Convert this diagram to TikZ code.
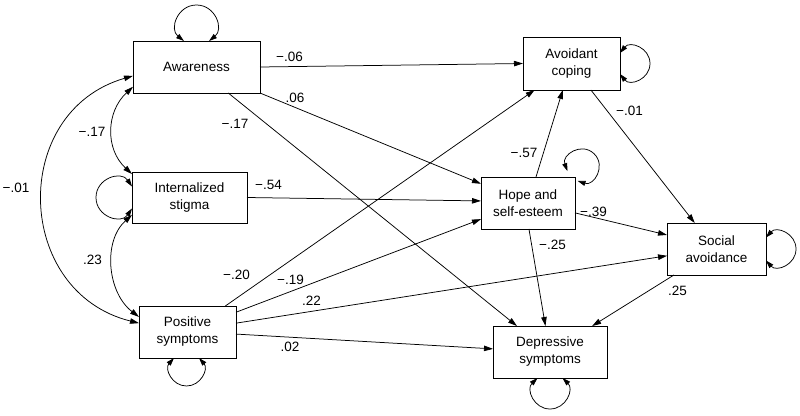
\documentclass[tikz,border=0pt]{standalone}
\usepackage{fontspec}
\setmainfont{Liberation Sans}
\usetikzlibrary{arrows.meta,calc}
% self loop: #1 base point, #2 rotation, #3 half chord, #4 extent
\newcommand{\sloopdraw}[4]{%
  \pgfmathsetmacro\sLr{(#3*#3+#4*#4)/(2*#4)}%
  \pgfmathsetmacro\sLc{#4-\sLr}%
  \pgfmathsetmacro\sLang{180-acos(\sLc/\sLr)}%
  \pgfmathsetmacro\sLk{4/3*tan(\sLang/4)*\sLr}%
  \pgfmathsetmacro\sLcx{\sLk*\sLc/\sLr}%
  \pgfmathsetmacro\sLcy{\sLk*#3/\sLr}%
  \draw[loopline, shift={#1}, rotate=#2] (-#3,0) .. controls +(-\sLcx,-\sLcy) and +(-\sLk,0) .. (0,-#4) .. controls +(\sLk,0) and +(\sLcx,-\sLcy) .. (#3,0);%
}
\begin{document}
\begin{tikzpicture}[x=1pt,y=-1pt, font=\fontsize{13.5}{17}\selectfont,
  box/.style={draw, line width=0.9pt, inner sep=0pt, outer sep=0pt, align=center, minimum height=52pt},
  conn/.style={line width=0.75pt, -{Triangle[length=9pt,width=5.5pt]}},
  dconn/.style={line width=0.75pt, {Triangle[length=9pt,width=5.5pt]}-{Triangle[length=9pt,width=5.5pt]}},
  loopline/.style={line width=0.75pt, {Triangle[length=8pt,width=5pt]}-{Triangle[length=8pt,width=5pt]}},
  lab/.style={inner sep=0pt}]
\useasboundingbox (0,0) rectangle (800,415);

% boxes
\node[box, minimum width=127pt] (aw) at (196.5,67) {Awareness};
\node[box, minimum width=115pt, minimum height=51pt] (is) at (189.5,197.5) {Internalized\\stigma};
\node[box, minimum width=97pt] (ps) at (187.5,332) {Positive\\symptoms};
\node[box, minimum width=97pt, minimum height=53pt] (av) at (571.5,63.5) {Avoidant\\coping};
\node[box, minimum width=94pt] (hp) at (528,203) {Hope and\\self-esteem};
\node[box, minimum width=99pt] (sa) at (716.5,249) {Social\\avoidance};
\node[box, minimum width=114pt] (dp) at (550,352) {Depressive\\symptoms};

% self loops
\sloopdraw{(aw.north)}{0}{12.5}{36}
\sloopdraw{(is.west)}{90}{11}{36}
\sloopdraw{($(ps.south)+(-1,0)$)}{180}{12.5}{28}
\sloopdraw{(av.east)}{-90}{10.5}{30}
\sloopdraw{($(hp.north east)+(-2.5,-1)$)}{-44}{7}{31}
\sloopdraw{(sa.east)}{-90}{11.5}{30}
\sloopdraw{(dp.south)}{180}{12.5}{31}

% correlations
\draw[dconn] ($(aw.north west)!0.88!(aw.south west)$) .. controls +(-27,25) and +(-27,-25) .. ($(is.north west)!0.04!(is.south west)$);
\draw[dconn] ($(aw.north west)!0.67!(aw.south west)$) .. controls +(-124,36) and +(-125,-31) .. ($(ps.north west)!0.33!(ps.south west)$);
\draw[dconn] ($(is.north west)!0.84!(is.south west)$) .. controls +(-29.5,26.7) and +(-31.6,-24.2) .. ($(ps.north west)!0.21!(ps.south west)$);

% paths
\draw[conn] (aw.east) -- ($(av.north west)!0.5!(av.south west)$);
\draw[conn] (aw.south east) -- ($(hp.north west)!0.13!(hp.south west)$);
\draw[conn] ($(aw.south west)!0.75!(aw.south east)$) -- ($(dp.north west)!0.21!(dp.north east)$);
\draw[conn] (is.east) -- ($(hp.north west)!0.46!(hp.south west)$);
\draw[conn] ($(ps.north west)!0.89!(ps.north east)$) -- ($(av.south west)!0.12!(av.south east)$);
\draw[conn] ($(ps.north east)!0.12!(ps.south east)$) -- ($(hp.north west)!0.81!(hp.south west)$);
\draw[conn] ($(ps.north east)!0.33!(ps.south east)$) -- ($(sa.north west)!0.63!(sa.south west)$);
\draw[conn] ($(ps.north east)!0.54!(ps.south east)$) -- ($(dp.north west)!0.44!(dp.south west)$);
\draw[conn] ($(hp.north west)!0.585!(hp.north east)$) -- ($(av.south west)!0.41!(av.south east)$);
\draw[conn] ($(hp.north east)!0.69!(hp.south east)$) -- ($(sa.north west)!0.23!(sa.south west)$);
\draw[conn] ($(hp.south west)!0.51!(hp.south east)$) -- ($(dp.north west)!0.46!(dp.north east)$);
\draw[conn] ($(av.south west)!0.70!(av.south east)$) -- ($(sa.north west)!0.28!(sa.north east)$);
\draw[conn] ($(sa.south west)!0.07!(sa.south east)$) -- ($(dp.north west)!0.87!(dp.north east)$);

% labels
\node[lab] (l1) at (289.5,57) {−.06};
\node[lab] (l2) at (295,98) {.06};
\node[lab] (l3) at (235,124) {−.17};
\node[lab] (l4) at (92,132) {−.17};
\node[lab] (l5) at (16,188) {−.01};
\node[lab] (l6) at (268.5,185) {−.54};
\node[lab] (l7) at (92.5,260) {.23};
\node[lab] (l8) at (236.5,275) {−.20};
\node[lab] (l9) at (290.5,280) {−.19};
\node[lab] (l10) at (311.5,301) {.22};
\node[lab] (l11) at (290,347) {.02};
\node[lab] (l12) at (524,153) {−.57};
\node[lab] (l13) at (629.5,111) {−.01};
\node[lab] (l14) at (593.5,212) {−.39};
\node[lab] (l15) at (552.5,245) {−.25};
\node[lab] (l16) at (677.5,291) {.25};
\end{tikzpicture}
\end{document}
